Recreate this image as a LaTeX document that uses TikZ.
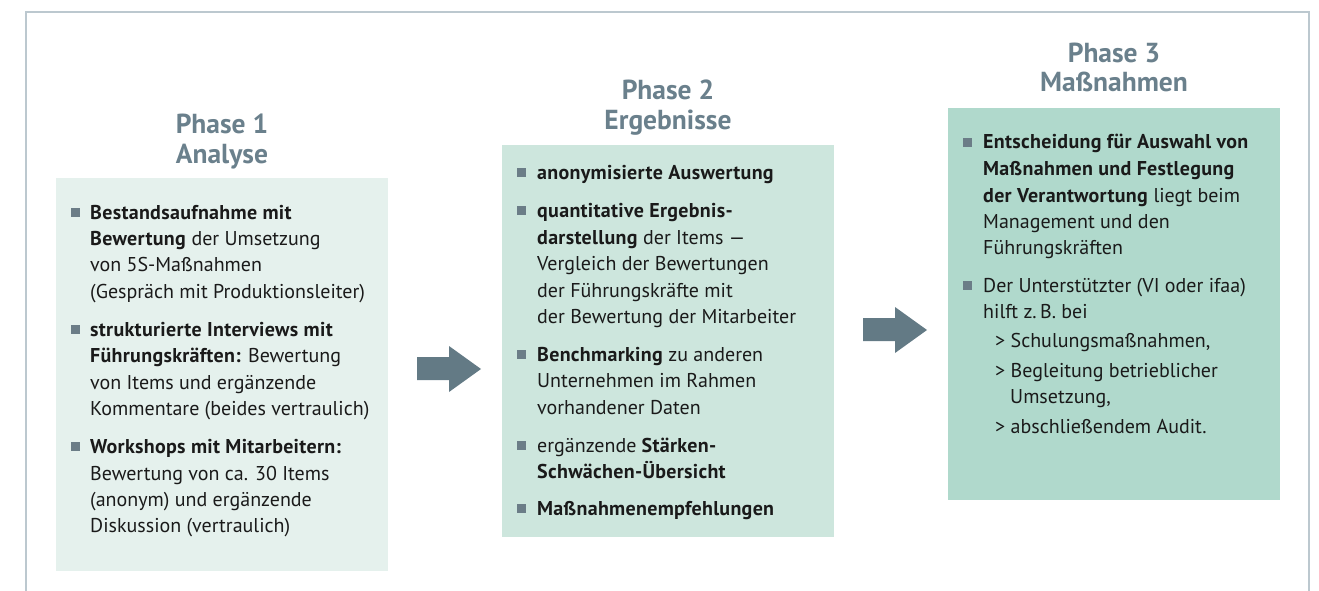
\documentclass[tikz,border=0pt]{standalone}
\usepackage{fontspec}
\setmainfont{PT Sans}[BoldFeatures={LetterSpace=1.5}]
\newfontfamily\ttlfont{PT Sans Bold}
\definecolor{framec}{HTML}{BCC8CF}
\definecolor{boxa}{HTML}{E5F1ED}
\definecolor{boxb}{HTML}{CDE6DD}
\definecolor{boxc}{HTML}{B0D9CC}
\definecolor{arrc}{HTML}{637A85}
\definecolor{ttlc}{HTML}{6A808C}
\definecolor{bulc}{HTML}{6B7D87}
\definecolor{txtc}{HTML}{1A1A1A}
\tikzset{
  ln/.style={anchor=base west, inner sep=0pt, font=\fontsize{20}{24}\selectfont, text=txtc},
  ttl/.style={anchor=base, inner sep=0pt, font=\ttlfont\fontsize{27.5}{32}\selectfont, text=ttlc},
  bul/.style={fill=bulc, minimum size=9pt, inner sep=0pt},
  panel/.style={inner sep=0pt, anchor=north west},
  blockarrow/.style={fill=arrc, draw=none}
}
\begin{document}
\begin{tikzpicture}[x=1pt,y=-1pt]
\useasboundingbox (0,0) rectangle (1319,591);
% frame
\draw[framec, line width=2pt] (26,591) -- (26,12) -- (1309,12) -- (1309,591);
% panels
\node[panel, fill=boxa, minimum width=332pt, minimum height=393pt] (p1) at (56,178) {};
\node[panel, fill=boxb, minimum width=332pt, minimum height=392pt] (p2) at (502,145) {};
\node[panel, fill=boxc, minimum width=332pt, minimum height=392pt] (p3) at (948,108) {};
% titles
\node[ttl] (t1a) at (222,134) {Phase 1};
\node[ttl] (t1b) at (222,163) {Analyse};
\node[ttl] (t2a) at (668,100) {Phase 2};
\node[ttl] (t2b) at (668,129) {Ergebnisse};
\node[ttl] (t3a) at (1114,63) {Phase 3};
\node[ttl] (t3b) at (1114,92) {Maßnahmen};
% arrows
\fill[blockarrow] (417,357) -- (449,357) -- (449,346) -- (481,369) -- (449,392) -- (449,380) -- (417,380) -- cycle;
\fill[blockarrow] (863,318) -- (895,318) -- (895,307) -- (927,330) -- (895,353) -- (895,341) -- (863,341) -- cycle;
% box 1
\node[bul] (b11) at (75.5,212.5) {};
\node[ln] (l11a) at (90,219) {\textbf{Bestandsaufnahme mit}};
\node[ln] (l11b) at (90,245) {\textbf{Bewertung} der Umsetzung};
\node[ln] (l11c) at (90,271) {von 5S-Maßnahmen};
\node[ln] (l11d) at (90,298) {(Gespräch mit Produktionsleiter)};
\node[bul] (b12) at (75.5,329.5) {};
\node[ln] (l12a) at (90,336) {\textbf{strukturierte Interviews mit}};
\node[ln] (l12b) at (90,362) {\textbf{Führungskräften:} Bewertung};
\node[ln] (l12c) at (90,389) {von Items und ergänzende};
\node[ln] (l12d) at (90,415) {Kommentare (beides vertraulich)};
\node[bul] (b13) at (75.5,446.5) {};
\node[ln] (l13a) at (90,453) {\textbf{Workshops mit Mitarbeitern:}};
\node[ln] (l13b) at (90,480) {Bewertung von ca. 30 Items};
\node[ln] (l13c) at (90,506) {(anonym) und ergänzende};
\node[ln] (l13d) at (90,532) {Diskussion (vertraulich)};
% box 2
\node[bul] (b21) at (521.5,172.5) {};
\node[ln] (l21a) at (537,179) {\textbf{anonymisierte Auswertung}};
\node[bul] (b22) at (521.5,210.5) {};
\node[ln] (l22a) at (537,217) {\textbf{quantitative Ergebnis-}};
\node[ln] (l22b) at (537,244) {\textbf{darstellung} der Items ---};
\node[ln] (l22c) at (537,270) {Vergleich der Bewertungen};
\node[ln] (l22d) at (537,297) {der Führungskräfte mit};
\node[ln] (l22e) at (537,323) {der Bewertung der Mitarbeiter};
\node[bul] (b23) at (521.5,354.5) {};
\node[ln] (l23a) at (537,361) {\textbf{Benchmarking} zu anderen};
\node[ln] (l23b) at (537,387) {Unternehmen im Rahmen};
\node[ln] (l23c) at (537,414) {vorhandener Daten};
\node[bul] (b24) at (521.5,445.5) {};
\node[ln] (l24a) at (537,452) {ergänzende \textbf{Stärken-}};
\node[ln] (l24b) at (537,478) {\textbf{Schwächen-Übersicht}};
\node[bul] (b25) at (521.5,508.5) {};
\node[ln] (l25a) at (537,515) {\textbf{Maßnahmenempfehlungen}};
% box 3
\node[bul] (b31) at (967.5,142.5) {};
\node[ln] (l31a) at (983,149) {\textbf{Entscheidung für Auswahl von}};
\node[ln] (l31b) at (983,175) {\textbf{Maßnahmen und Festlegung}};
\node[ln] (l31c) at (983,202) {\textbf{der Verantwortung} liegt beim};
\node[ln] (l31d) at (983,228) {Management und den};
\node[ln] (l31e) at (983,254) {Führungskräften};
\node[bul] (b32) at (967.5,285.5) {};
\node[ln] (l32a) at (983,292) {Der Unterstützter (VI oder ifaa)};
\node[ln] (l32b) at (983,318) {hilft z.\,B. bei};
\node[ln] (l32c) at (995,347) {> Schulungsmaßnahmen,};
\node[ln] (l32d) at (995,377) {> Begleitung betrieblicher};
\node[ln] (l32e) at (1010,403) {Umsetzung,};
\node[ln] (l32f) at (995,433) {> abschließendem Audit.};
\end{tikzpicture}
\end{document}
